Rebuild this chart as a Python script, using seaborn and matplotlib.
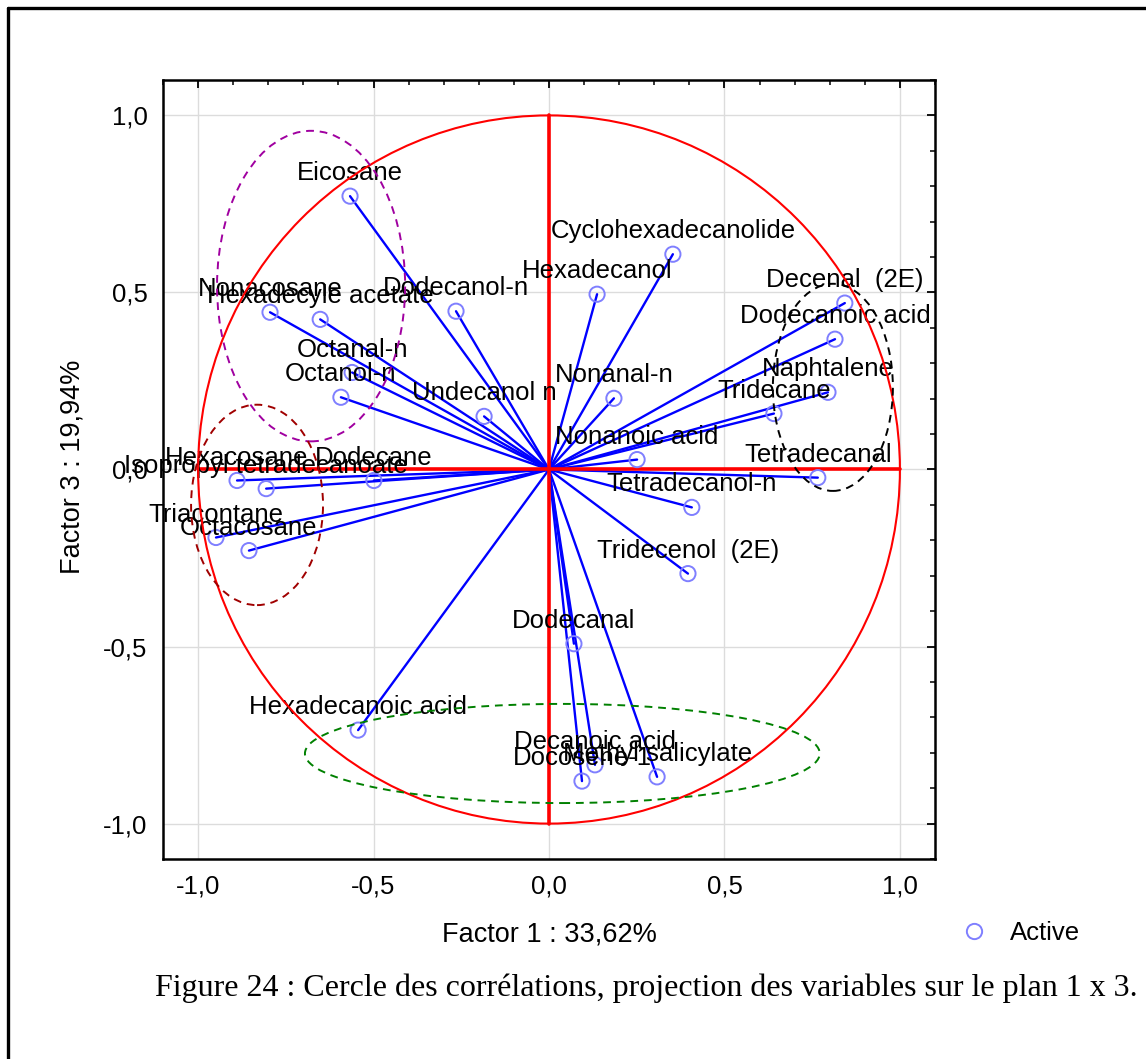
import numpy as np
import pandas as pd
import matplotlib
matplotlib.use("Agg")
import matplotlib.pyplot as plt
import seaborn as sns
from matplotlib.patches import Ellipse, Circle
from matplotlib.lines import Line2D
from matplotlib.ticker import MultipleLocator, FuncFormatter

# ---------------- data ----------------
variables = [
    "Eicosane", "Dodecanol-n", "Nonacosane", "Hexadecyle acetate", "Octanal-n",
    "Octanol-n", "Undecanol n", "Hexacosane", "Isopropyl tetradecanoate", "Dodecane",
    "Triacontane", "Octacosane", "Hexadecanoic acid", "Dodecanal", "Decanoic acid",
    "Docosene-1", "Methyl salicylate", "Tridecenol  (2E)", "Tetradecanol-n",
    "Nonanoic acid", "Nonanal-n", "Hexadecanol", "Cyclohexadecanolide",
    "Decenal  (2E)", "Dodecanoic acid", "Naphtalene", "Tridecane", "Tetradecanal",
]
factor1 = [
    -0.567, -0.265, -0.795, -0.652, -0.561,
    -0.593, -0.185, -0.889, -0.806, -0.499,
    -0.949, -0.855, -0.544, 0.071, 0.131,
    0.094, 0.308, 0.396, 0.407,
    0.251, 0.185, 0.137, 0.353,
    0.843, 0.815, 0.795, 0.641, 0.766,
]
factor3 = [
    0.772, 0.447, 0.444, 0.424, 0.274,
    0.204, 0.150, -0.031, -0.054, -0.031,
    -0.192, -0.229, -0.736, -0.492, -0.834,
    -0.880, -0.868, -0.294, -0.107,
    0.028, 0.201, 0.495, 0.608,
    0.470, 0.368, 0.218, 0.158, -0.023,
]
x_label = "Factor 1 : 33,62%"
y_label = "Factor 3 : 19,94%"
legend_label = "Active"
caption = "Figure 24 : Cercle des corrélations, projection des variables sur le plan 1 x 3."

# group ellipses (annotation shapes): center x, center y, width, height, colour
group_cx = [-0.678, -0.832, 0.809, 0.038]
group_cy = [0.518, -0.100, 0.232, -0.802]
group_w = [0.536, 0.376, 0.342, 1.467]
group_h = [0.877, 0.566, 0.585, 0.280]
group_colors = ["#a000a0", "#a00000", "#000000", "#008000"]

# ---------------- style ----------------
sns.set_theme(style="white")
plt.rcParams["font.family"] = ["Liberation Sans", "DejaVu Sans"]
plt.rcParams["text.color"] = "black"
plt.rcParams["axes.labelcolor"] = "black"
plt.rcParams["xtick.color"] = "black"
plt.rcParams["ytick.color"] = "black"
plt.rcParams["xtick.labelcolor"] = "black"
plt.rcParams["ytick.labelcolor"] = "black"

W, H = 1146, 1059
fig = plt.figure(figsize=(W / 100, H / 100), dpi=100)
fig.patch.set_facecolor("white")
ax = fig.add_axes([163 / W, 1 - 859 / H, 772 / W, 779 / H])

pts = pd.DataFrame({"name": variables, "f1": factor1, "f3": factor3})
seg_rows = []
for n, a, b in zip(variables, factor1, factor3):
    seg_rows.append({"name": n, "x": 0.0, "y": 0.0, "k": 0})
    seg_rows.append({"name": n, "x": a, "y": b, "k": 1})
seg = pd.DataFrame(seg_rows)

ax.set_axisbelow(True)
ax.grid(True, which="major", color="#dcdcdc", lw=1.0)

sns.lineplot(data=seg, x="x", y="y", units="name", estimator=None, sort=False,
             color="#0000ff", lw=1.7, ax=ax, legend=False, zorder=2)

sns.scatterplot(data=pts, x="f1", y="f3", s=120, marker="o", ax=ax,
                legend=False, zorder=3)
coll = ax.collections[-1]
coll.set_facecolor("none")
coll.set_edgecolor("#7f7fff")
coll.set_linewidth(1.4)

# unit circle and red axes
ax.add_patch(Circle((0, 0), 1.0, fill=False, edgecolor="#ff0000", lw=1.5, zorder=5))
ax.plot([-1, 1], [0, 0], color="#ff0000", lw=2.6, zorder=2.5)
ax.plot([0, 0], [-1, 1], color="#ff0000", lw=2.6, zorder=2.5)

for n, a, b in zip(variables, factor1, factor3):
    ax.annotate(n, (a, b), xytext=(0, 16.5), textcoords="offset points",
                ha="center", va="center", fontsize=18.5, color="black", zorder=4)

for cx, cy, w, h, c in zip(group_cx, group_cy, group_w, group_h, group_colors):
    ax.add_patch(Ellipse((cx, cy), w, h, fill=False, edgecolor=c, lw=1.4,
                         ls=(0, (4, 3)), zorder=6))

ax.set_xlim(-1.1, 1.1)
ax.set_ylim(-1.1, 1.1)
fmt = FuncFormatter(lambda v, p: f"{v:.1f}".replace(".", ",").replace("−", "-"))
for axis in (ax.xaxis, ax.yaxis):
    axis.set_major_locator(MultipleLocator(0.5))
    axis.set_minor_locator(MultipleLocator(0.1))
    axis.set_major_formatter(fmt)
ax.tick_params(which="both", direction="in", top=True, right=True,
               color="black", labelcolor="black")
ax.tick_params(which="major", length=6, width=1.3, labelsize=18.5, pad=11)
ax.tick_params(which="minor", length=3.5, width=1.1)
for s in ax.spines.values():
    s.set_visible(True)
    s.set_color("black")
    s.set_linewidth(1.8)

ax.set_xlabel(x_label, fontsize=19.5, color="black")
ax.set_ylabel(y_label, fontsize=19.5, color="black")
ax.xaxis.set_label_coords(0.501, -0.080)
ax.yaxis.set_label_coords(-0.100, 0.503)

handle = Line2D([], [], marker="o", ls="none", mfc="none", mec="#7f7fff",
                ms=11, mew=1.4)
leg = fig.legend([handle], [legend_label], loc="center left",
                 bbox_to_anchor=(946 / W, 1 - 933 / H), frameon=False,
                 fontsize=18.5, handletextpad=0.8, borderpad=0, handlelength=1.2)
for t in leg.get_texts():
    t.set_color("black")

fig.text(155 / W, 1 - 988 / H, caption, ha="left", va="center", fontsize=23,
         family=["Liberation Serif", "DejaVu Serif"], color="black")

# outer page frame (top and left visible)
fig.add_artist(Line2D([8 / W, 1.0], [1 - 8 / H, 1 - 8 / H], color="black", lw=2.4,
                      transform=fig.transFigure))
fig.add_artist(Line2D([8 / W, 8 / W], [0.0, 1 - 8 / H], color="black", lw=2.4,
                      transform=fig.transFigure))

fig.savefig("out.png", dpi=100, facecolor="white")
